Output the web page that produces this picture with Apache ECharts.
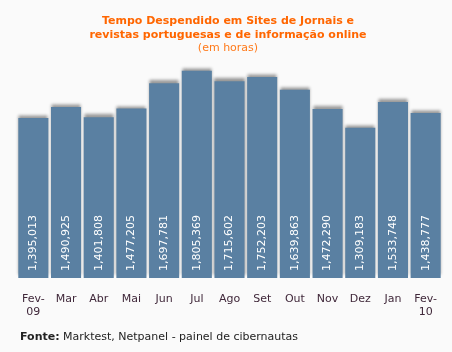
<!DOCTYPE html>
<html>
<head>
<meta charset="utf-8">
<script src="https://cdn.jsdelivr.net/npm/echarts@6/dist/echarts.min.js"></script>
<style>
  html, body { margin: 0; padding: 0; background: #fafafa; }
  #chart { width: 452px; height: 352px; }
</style>
</head>
<body>
<div id="chart"></div>
<script>
const months = ['Fev-\n09', 'Mar', 'Abr', 'Mai', 'Jun', 'Jul', 'Ago', 'Set', 'Out', 'Nov', 'Dez', 'Jan', 'Fev-\n10']
const hours = [1395013, 1490925, 1401808, 1477205, 1697781, 1805369, 1715602, 1752203, 1639863, 1472290, 1309183, 1533748, 1438777]

const chart = echarts.init(document.getElementById('chart'))
chart.setOption({
  backgroundColor: '#fafafa',
  animation: false,
  title: {
    text: 'Tempo Despendido em Sites de Jornais e\nrevistas portuguesas e de informação online',
    subtext: '(em horas)',
    left: 223,
    textAlign: 'center',
    top: 9,
    itemGap: 0,
    textStyle: {
      fontFamily: 'DejaVu Sans',
      fontSize: 11,
      fontWeight: 'bold',
      color: '#ff6600',
      lineHeight: 14
    },
    subtextStyle: {
      fontFamily: 'DejaVu Sans',
      fontSize: 11,
      color: '#ff7a1a',
      lineHeight: 13
    }
  },
  grid: { left: 17, right: 10, top: 60, bottom: 74 },
  xAxis: {
    type: 'category',
    data: months,
    axisLine: { show: false },
    axisTick: { show: false },
    axisLabel: {
      interval: 0,
      margin: 15,
      fontFamily: 'DejaVu Sans',
      fontSize: 11,
      lineHeight: 13,
      color: '#40283a'
    }
  },
  yAxis: {
    type: 'value',
    min: 0,
    max: 1900000,
    show: false
  },
  series: [{
    type: 'bar',
    data: hours,
    barCategoryGap: '8%',
    itemStyle: {
      color: '#5a80a2',
      shadowColor: 'rgba(0,0,0,0.4)',
      shadowBlur: 3,
      shadowOffsetY: -3
    },
    label: {
      show: true,
      position: 'insideBottom',
      rotate: 90,
      align: 'left',
      verticalAlign: 'middle',
      distance: 7,
      fontFamily: 'DejaVu Sans',
      fontSize: 11,
      color: '#ffffff',
      formatter: p => p.value.toLocaleString('en-US')
    }
  }],
  graphic: [{
    type: 'text',
    left: 20,
    top: 332,
    style: {
      text: '{b|Fonte:} Marktest, Netpanel - painel de cibernautas',
      rich: {
        b: { fontFamily: 'DejaVu Sans', fontSize: 11, fontWeight: 'bold', fill: '#222' }
      },
      fontFamily: 'DejaVu Sans',
      fontSize: 11,
      fill: '#222'
    }
  }]
})
</script>
</body>
</html>
